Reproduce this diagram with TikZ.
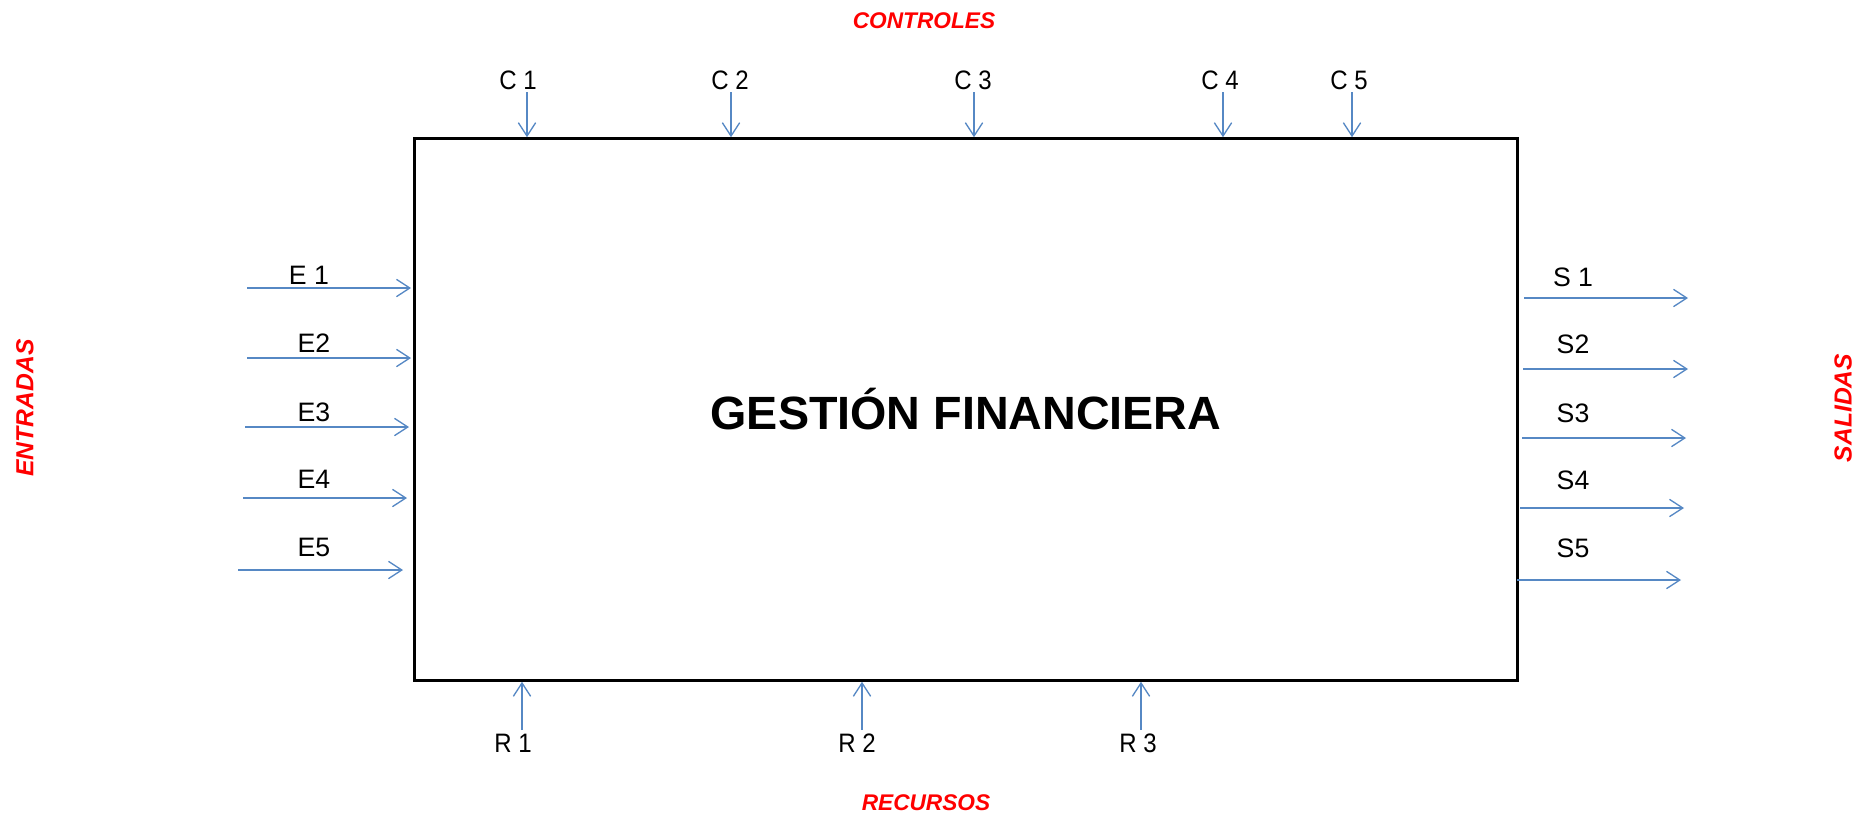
\documentclass[tikz,border=0pt]{standalone}
\usepackage{fontspec}
\setmainfont{Liberation Sans}
\usetikzlibrary{positioning,arrows.meta}
\definecolor{flecha}{RGB}{86,136,196}
\newcommand{\estrecho}[1]{\scalebox{0.9}[1]{#1}}

\begin{document}
\begin{tikzpicture}[
    x=0.75pt, y=-0.75pt,
    proceso/.style={rectangle, draw=black, line width=2.4pt, minimum width=827pt, minimum height=406pt, align=center, font=\fontsize{35}{42}\selectfont\bfseries},
    etiqueta/.style={inner sep=0pt, font=\fontsize{20}{24}\selectfont},
    grupo/.style={inner sep=0pt, text=red, font=\fontsize{17}{20}\selectfont\bfseries\itshape},
    lateral/.style={grupo, rotate=90, font=\fontsize{18.5}{22}\selectfont\bfseries\itshape},
    flujo/.style={draw=flecha, line width=1pt, -{Straight Barb[length=10pt,width=13pt]}}
]
    \useasboundingbox (0,0) rectangle (1872,818);

    \node[proceso] (gf) at (966,409.5) {GESTIÓN FINANCIERA};

    % controles
    \node[grupo] (controles) at (924,21) {CONTROLES};
    \foreach \i/\x/\lx/\t in {1/527/518/C 1, 2/731/730/C 2, 3/974/973/C 3, 4/1223/1220/C 4, 5/1352/1349/C 5} {
        \node[etiqueta] (c\i) at (\lx,80) {\estrecho{\t}};
        \coordinate (ca\i) at (\x,92);
        \draw[flujo] (ca\i) -- (ca\i |- gf.north);
    }

    % entradas
    \node[lateral] (entradas) at (25,408) {ENTRADAS};
    \foreach \i/\y/\xa/\xb/\lx/\ly/\t in {1/288/247/411/309/275/E 1, 2/358/247/411/314/343/E2, 3/427/245/409/314/412/E3, 4/498/243/407/314/479/E4, 5/570/238/403/314/547/E5} {
        \node[etiqueta] (e\i) at (\lx,\ly) {\t};
        \coordinate (ea\i) at (\xa,\y);
        \coordinate (eb\i) at (\xb,\y);
        \draw[flujo] (ea\i) -- (eb\i);
    }

    % salidas
    \node[lateral] (salidas) at (1843,408) {SALIDAS};
    \foreach \i/\y/\xa/\xb/\ly/\t in {1/298/1524/1688/277/S 1, 2/369/1523/1688/344/S2, 3/438/1522/1686/413/S3, 4/508/1520/1684/480/S4, 5/580/1517/1681/548/S5} {
        \node[etiqueta] (s\i) at (1573,\ly) {\t};
        \coordinate (sa\i) at (\xa,\y);
        \coordinate (sb\i) at (\xb,\y);
        \draw[flujo] (sa\i) -- (sb\i);
    }

    % recursos
    \node[grupo] (recursos) at (926,803) {RECURSOS};
    \foreach \i/\x/\lx/\t in {1/522/513/R 1, 2/862/857/R 2, 3/1141/1138/R 3} {
        \node[etiqueta] (r\i) at (\lx,743) {\estrecho{\t}};
        \coordinate (ra\i) at (\x,730);
        \draw[flujo] (ra\i) -- (ra\i |- gf.south);
    }
\end{tikzpicture}
\end{document}
